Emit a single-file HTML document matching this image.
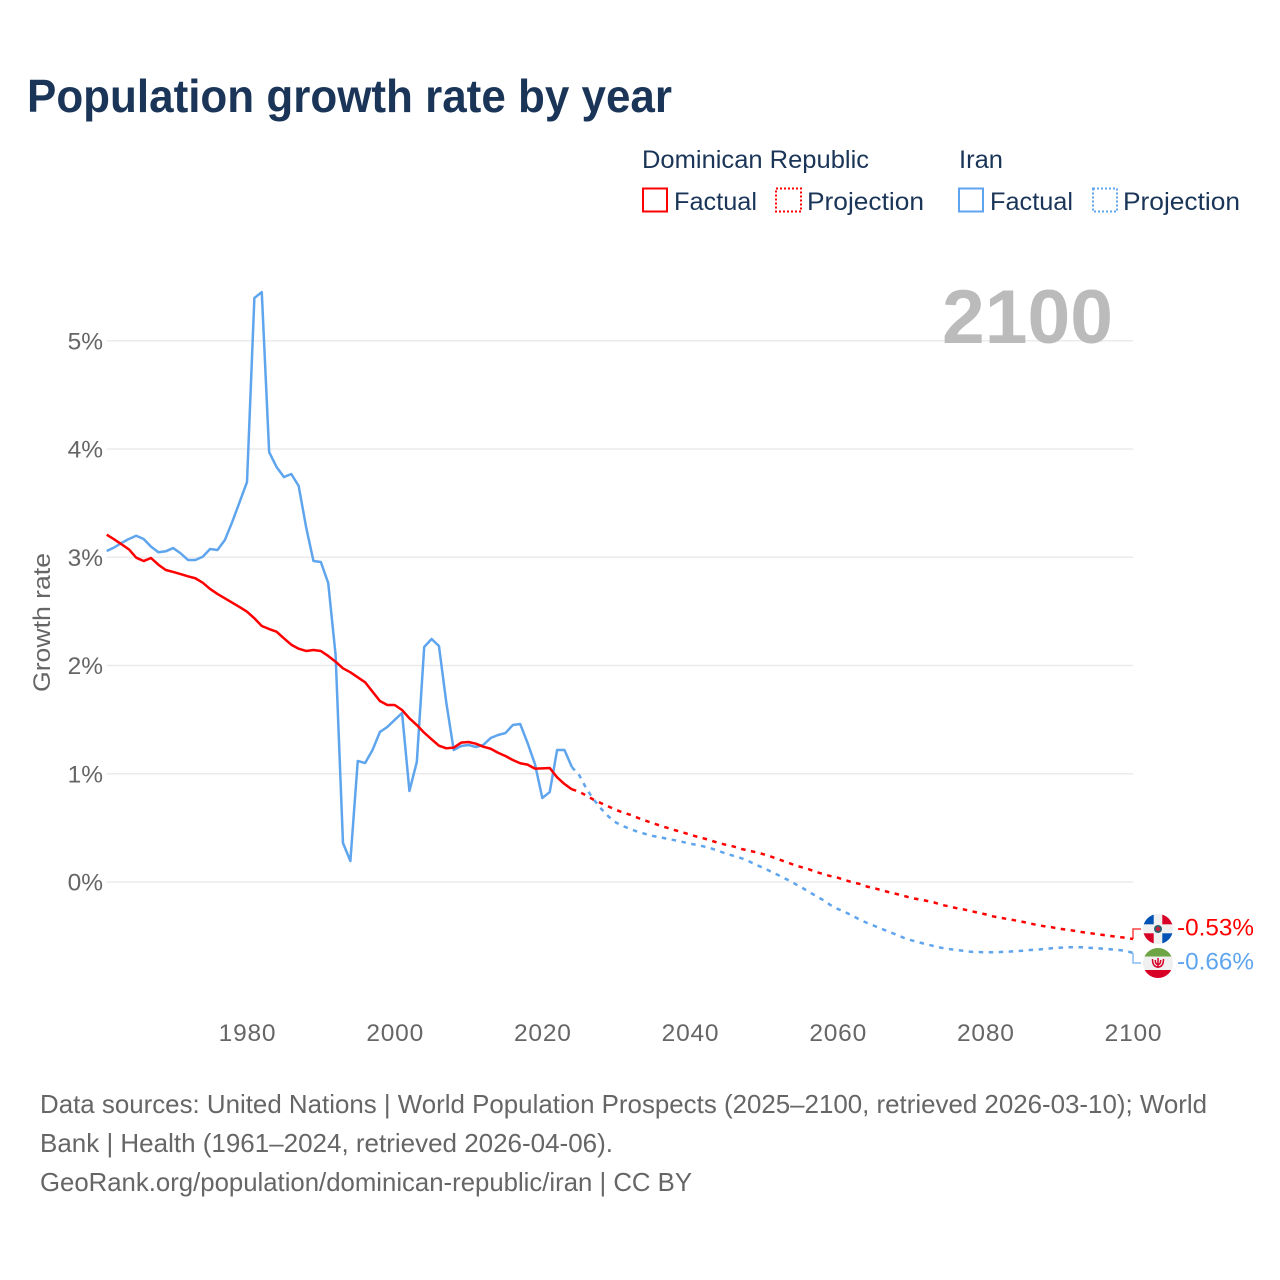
<!DOCTYPE html>
<html lang="en">
<head>
<meta charset="utf-8">
<title>Population growth rate by year</title>
<style>
html,body{margin:0;padding:0;background:#fff;width:1280px;height:1280px;overflow:hidden}
svg{display:block}
text{font-family:"Liberation Sans",sans-serif}
</style>
</head>
<body>
<svg id="chart" xmlns="http://www.w3.org/2000/svg" width="1280" height="1280" viewBox="0 0 1280 1280">
  <defs>
    <clipPath id="flag-clip-dr"><circle cx="1158" cy="929" r="15"/></clipPath>
    <clipPath id="flag-clip-ir"><circle cx="1158" cy="963" r="15"/></clipPath>
  </defs>
  <rect x="0" y="0" width="1280" height="1280" fill="#ffffff"/>
  <text x="27" y="112" font-size="46" font-weight="700" fill="#1a3557" textLength="645" lengthAdjust="spacingAndGlyphs">Population growth rate by year</text>

  <g font-size="25" fill="#1a3557">
    <text x="642" y="168" textLength="227" lengthAdjust="spacingAndGlyphs">Dominican Republic</text>
    <text x="959" y="168" textLength="44" lengthAdjust="spacingAndGlyphs">Iran</text>
    <g>
      <rect x="643" y="188.500" width="24" height="23" fill="none" stroke="#ff0000" stroke-width="2"/>
      <text x="674" y="210" textLength="83" lengthAdjust="spacingAndGlyphs">Factual</text>
    </g>
    <g>
      <rect x="776" y="188.500" width="25" height="23" fill="none" stroke="#ff0000" stroke-width="2" stroke-dasharray="2 2"/>
      <text x="807" y="210" textLength="117" lengthAdjust="spacingAndGlyphs">Projection</text>
    </g>
    <g>
      <rect x="959" y="188.500" width="24" height="23" fill="none" stroke="#5fa5ee" stroke-width="2"/>
      <text x="990" y="210" textLength="83" lengthAdjust="spacingAndGlyphs">Factual</text>
    </g>
    <g>
      <rect x="1093" y="188.500" width="24" height="23" fill="none" stroke="#5fa5ee" stroke-width="2" stroke-dasharray="2 2"/>
      <text x="1123" y="210" textLength="117" lengthAdjust="spacingAndGlyphs">Projection</text>
    </g>
  </g>

  <g id="grid"></g>
  <g id="y-axis"></g>
  <g id="x-axis"></g>
  <text transform="translate(50,692) rotate(-90)" font-size="24.500" fill="#666666" textLength="139" lengthAdjust="spacingAndGlyphs">Growth rate</text>

  <text x="942" y="343" font-size="76" font-weight="700" fill="#bbbbbb" textLength="171" lengthAdjust="spacingAndGlyphs">2100</text>

  <g id="series"></g>

  <g clip-path="url(#flag-clip-dr)">
    <rect x="1143" y="914" width="30" height="30" fill="#f0f0f0"/>
    <rect x="1143" y="914" width="10.700" height="10.300" fill="#0052b4"/>
    <rect x="1162.300" y="933.300" width="10.700" height="10.700" fill="#0052b4"/>
    <rect x="1162.300" y="914" width="10.700" height="10.300" fill="#d80027"/>
    <rect x="1143" y="933.300" width="10.700" height="10.700" fill="#d80027"/>
    <circle cx="1158" cy="929" r="4" fill="#2f5f6f"/>
    <circle cx="1158" cy="929" r="2.200" fill="#c4203a"/>
  </g>
  <g clip-path="url(#flag-clip-ir)">
    <rect x="1143" y="948" width="30" height="30" fill="#f0f0f0"/>
    <rect x="1143" y="948" width="30" height="8.500" fill="#6da544"/>
    <rect x="1143" y="970" width="30" height="8" fill="#d80027"/>
    <path d="M1152.500 959 Q1152.500 967 1158 967 Q1163.500 967 1163.500 959 M1158 958 V968 M1155.300 960 Q1155.300 964.500 1158 964.500 Q1160.700 964.500 1160.700 960" fill="none" stroke="#d80027" stroke-width="1.500"/>
  </g>

  <text x="1177" y="935.500" font-size="24.500" fill="#ff0000" textLength="77" lengthAdjust="spacingAndGlyphs">-0.53%</text>
  <text x="1177" y="969.500" font-size="24.500" fill="#5fa5ee" textLength="77" lengthAdjust="spacingAndGlyphs">-0.66%</text>

  <g font-size="26" fill="#666666">
    <text x="40" y="1113" textLength="1167" lengthAdjust="spacingAndGlyphs">Data sources: United Nations | World Population Prospects (2025–2100, retrieved 2026-03-10); World</text>
    <text x="40" y="1152" textLength="573" lengthAdjust="spacingAndGlyphs">Bank | Health (1961–2024, retrieved 2026-04-06).</text>
    <text x="40" y="1191" textLength="652" lengthAdjust="spacingAndGlyphs">GeoRank.org/population/dominican-republic/iran | CC BY</text>
  </g>
</svg>
<script>
const factualStartYear = 1961;
const projectionStartYear = 2025;
const xTickYears = [1980, 2000, 2020, 2040, 2060, 2080, 2100];
const yTickValues = [0, 1, 2, 3, 4, 5];

const dominicanFactual = [3.208,3.166,3.120,3.073,2.996,2.965,2.993,2.931,2.882,2.864,2.845,2.824,2.806,2.765,2.707,2.661,2.621,2.580,2.540,2.497,2.436,2.365,2.337,2.312,2.251,2.192,2.155,2.134,2.143,2.134,2.088,2.035,1.974,1.937,1.891,1.845,1.758,1.672,1.635,1.635,1.589,1.512,1.450,1.379,1.318,1.259,1.235,1.241,1.287,1.293,1.278,1.250,1.231,1.194,1.164,1.127,1.097,1.084,1.047,1.050,1.053,0.967,0.905,0.856];
const dominicanProjection = [0.834,0.797,0.758,0.727,0.696,0.665,0.640,0.619,0.591,0.566,0.542,0.520,0.499,0.478,0.459,0.437,0.418,0.400,0.379,0.358,0.342,0.326,0.305,0.289,0.274,0.256,0.234,0.210,0.185,0.160,0.139,0.120,0.095,0.074,0.055,0.040,0.018,-0.003,-0.018,-0.043,-0.058,-0.077,-0.095,-0.111,-0.129,-0.148,-0.160,-0.173,-0.188,-0.210,-0.224,-0.240,-0.252,-0.268,-0.284,-0.298,-0.317,-0.330,-0.342,-0.354,-0.367,-0.382,-0.397,-0.409,-0.418,-0.431,-0.441,-0.450,-0.462,-0.471,-0.480,-0.490,-0.499,-0.508,-0.515,-0.527];
const iranFactual = [3.058,3.090,3.132,3.169,3.199,3.169,3.098,3.046,3.055,3.085,3.037,2.975,2.975,3.005,3.076,3.067,3.159,3.326,3.510,3.695,5.395,5.450,3.972,3.834,3.741,3.769,3.658,3.280,2.965,2.956,2.762,2.097,0.360,0.194,1.118,1.099,1.219,1.386,1.432,1.497,1.561,0.841,1.109,2.171,2.245,2.180,1.654,1.219,1.256,1.266,1.247,1.266,1.330,1.358,1.376,1.450,1.460,1.284,1.090,0.776,0.831,1.219,1.219,1.062];
const iranProjection = [0.986,0.859,0.758,0.674,0.603,0.548,0.515,0.487,0.462,0.443,0.425,0.413,0.397,0.385,0.370,0.354,0.342,0.326,0.308,0.284,0.259,0.240,0.219,0.191,0.157,0.129,0.095,0.062,0.028,-0.009,-0.046,-0.086,-0.127,-0.166,-0.212,-0.249,-0.277,-0.311,-0.348,-0.379,-0.406,-0.434,-0.462,-0.487,-0.517,-0.539,-0.557,-0.575,-0.591,-0.607,-0.619,-0.628,-0.635,-0.644,-0.647,-0.649,-0.649,-0.647,-0.644,-0.640,-0.635,-0.628,-0.625,-0.619,-0.612,-0.607,-0.603,-0.603,-0.603,-0.607,-0.612,-0.616,-0.622,-0.628,-0.635,-0.655];

const SVG_NS = 'http://www.w3.org/2000/svg';
const RED = '#ff0000';
const BLUE = '#5fa5ee';
const DASH = '4.500 5.500';

function xScale(year) { return 247 + (year - 1980) * (1133 - 247) / 120; }
function yScale(pct) { return 882 - pct * 108.25; }

function pathFrom(startYear, values, leadYear, leadValue) {
  let pts = [];
  if (leadYear !== null) pts.push(xScale(leadYear).toFixed(2) + ',' + yScale(leadValue).toFixed(2));
  values.forEach(function (v, i) {
    pts.push(xScale(startYear + i).toFixed(2) + ',' + yScale(v).toFixed(2));
  });
  return 'M' + pts.join('L');
}

const gridLayer = document.getElementById('grid');
const yLayer = document.getElementById('y-axis');
const xLayer = document.getElementById('x-axis');
const seriesLayer = document.getElementById('series');

yTickValues.forEach(function (t) {
  const line = document.createElementNS(SVG_NS, 'line');
  
  
  line.setAttribute('x1', xScale(1961));
  line.setAttribute('x2', xScale(2100));
  line.setAttribute('y1', yScale(t));
  line.setAttribute('y2', yScale(t));
  line.setAttribute('stroke', '#ebebeb');
  line.setAttribute('stroke-width', '1.5');
  gridLayer.appendChild(line);

  const label = document.createElementNS(SVG_NS, 'text');
  
  
  label.setAttribute('x', 103);
  label.setAttribute('y', yScale(t) + 8.5);
  label.setAttribute('text-anchor', 'end');
  label.setAttribute('font-size', '24.5');
  label.setAttribute('fill', '#666666');
  label.textContent = t + '%';
  yLayer.appendChild(label);
});

xTickYears.forEach(function (y) {
  const label = document.createElementNS(SVG_NS, 'text');
  
  
  label.setAttribute('x', xScale(y) + 0.5);
  label.setAttribute('y', 1041);
  label.setAttribute('text-anchor', 'middle');
  label.setAttribute('font-size', '24.5');
  label.setAttribute('letter-spacing', '0.8');
  label.setAttribute('fill', '#666666');
  label.textContent = String(y);
  xLayer.appendChild(label);
});

function addLine(name, d, color, dashed) {
  const p = document.createElementNS(SVG_NS, 'path');
  
  
  p.setAttribute('d', d);
  p.setAttribute('fill', 'none');
  p.setAttribute('stroke', color);
  p.setAttribute('stroke-width', '2.5');
  p.setAttribute('stroke-linejoin', 'round');
  if (dashed) p.setAttribute('stroke-dasharray', DASH);
  seriesLayer.appendChild(p);
}

const lastFactualYear = factualStartYear + dominicanFactual.length - 1;
addLine('line-iran-factual', pathFrom(factualStartYear, iranFactual, null, 0), BLUE, false);
addLine('line-dominican-factual', pathFrom(factualStartYear, dominicanFactual, null, 0), RED, false);
addLine('line-iran-projection', pathFrom(projectionStartYear, iranProjection, lastFactualYear, iranFactual[iranFactual.length - 1]), BLUE, true);
addLine('line-dominican-projection', pathFrom(projectionStartYear, dominicanProjection, lastFactualYear, dominicanFactual[dominicanFactual.length - 1]), RED, true);

const endX = xScale(2100);
const drEndY = yScale(dominicanProjection[dominicanProjection.length - 1]);
const irEndY = yScale(iranProjection[iranProjection.length - 1]);
addConnector('connector-dominican-republic', drEndY, 929, RED);
addConnector('connector-iran', irEndY, 963, BLUE);

function addConnector(name, fromY, toY, color) {
  const p = document.createElementNS(SVG_NS, 'path');
  
  
  p.setAttribute('d', 'M' + endX + ' ' + fromY + 'V' + toY + 'H1141');
  p.setAttribute('fill', 'none');
  p.setAttribute('stroke', color);
  p.setAttribute('stroke-width', '1.5');
  p.setAttribute('stroke-opacity', '0.75');
  seriesLayer.appendChild(p);
}
</script>
</body>
</html>
